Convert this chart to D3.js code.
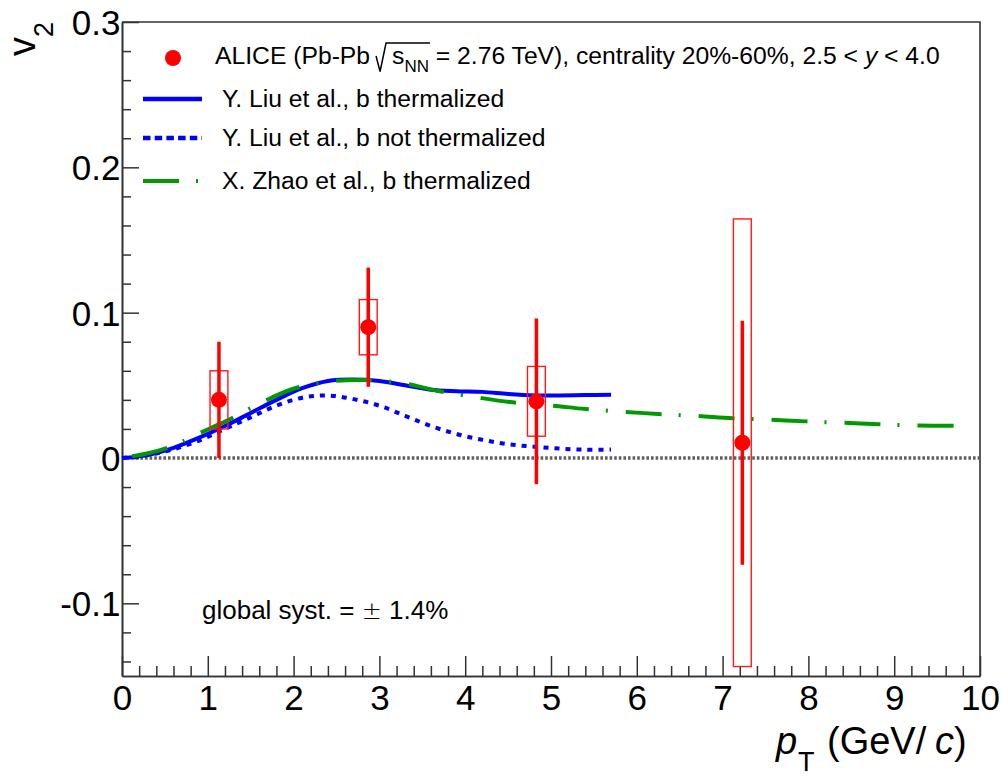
<!DOCTYPE html>
<html>
<head>
<meta charset="utf-8">
<script src="https://cdn.jsdelivr.net/npm/d3@7"></script>
<style>
  html, body { margin: 0; padding: 0; background: #fff; }
  svg { display: block; font-family: "Liberation Sans", Arial, Helvetica, sans-serif; }
</style>
</head>
<body>
<svg id="chart" width="1002" height="778"></svg>
<script>
// ALICE J/psi v2 measurement: bin centres, values, stat. and syst. uncertainties
const dataPt   = [1.13, 2.87, 4.83, 7.23];
const dataV2   = [0.040, 0.090, 0.039, 0.0105];
const dataStat = [0.040, 0.041, 0.057, 0.084];
const dataSyst = [0.020, 0.019, 0.024, 0.154];

// Transport model: Y. Liu et al.
const liuPt      = [0, 0.3, 0.6, 0.9, 1.2, 1.5, 1.8, 2.1, 2.4, 2.7, 3.0, 3.3, 3.6, 3.9, 4.2, 4.5, 4.8, 5.1, 5.4, 5.7];
const liuTherm   = [0, 0.002, 0.007, 0.014, 0.022, 0.031, 0.040, 0.048, 0.053, 0.054, 0.053, 0.050, 0.047, 0.046, 0.0455, 0.044, 0.043, 0.043, 0.0433, 0.0435];
const liuNoTherm = [0, 0.002, 0.006, 0.012, 0.020, 0.028, 0.036, 0.0415, 0.043, 0.0405, 0.036, 0.029, 0.022, 0.0165, 0.0125, 0.0095, 0.0078, 0.0065, 0.0057, 0.0058];

// Transport model: X. Zhao et al.
const zhaoPt    = [0, 0.33, 0.62, 0.83, 1.2, 1.61, 1.98, 2.4, 2.8, 3.28, 3.67, 4.13, 4.52, 4.99, 5.4, 5.84, 6.25, 6.7, 7.12, 7.55, 7.97, 8.41, 8.83, 9.28, 9.7];
const zhaoTherm = [0, 0.0036, 0.009, 0.0151, 0.025, 0.0376, 0.0473, 0.0525, 0.0537, 0.0514, 0.0463, 0.0418, 0.0385, 0.0362, 0.0337, 0.0318, 0.0303, 0.0289, 0.0273, 0.0264, 0.0252, 0.0242, 0.0232, 0.0224, 0.0222];

// Axis ticks
const xTickValues = [0, 1, 2, 3, 4, 5, 6, 7, 8, 9, 10];
const xTickLabels = ["0", "1", "2", "3", "4", "5", "6", "7", "8", "9", "10"];
const yTickValues = [-0.1, 0, 0.1, 0.2, 0.3];
const yTickLabels = ["-0.1", "0", "0.1", "0.2", "0.3"];

// Legend entries
const legendLabels = [
  "Y. Liu et al., b thermalized",
  "Y. Liu et al., b not thermalized",
  "X. Zhao et al., b thermalized"
];
const globalSystLabel = "global syst. = ";
const globalSystValue = " 1.4%";

const frame = { left: 122, right: 980, top: 22, bottom: 676 };
const x = d3.scaleLinear().domain([0, 10]).range([frame.left, frame.right]);
const y = d3.scaleLinear().domain([-0.15, 0.3]).range([frame.bottom, frame.top]);

const svg = d3.select("#chart");
const axisColor = "#333";
const red = "#ff0000", blue = "#0000ff", green = "#009900";
const greenDash = [36, 17, 2, 18];

// ---- axes ----
const xMinor = d3.range(0, 10.0001, 0.2).filter(v => Math.abs(v - Math.round(v)) > 1e-6);
const yMinor = d3.range(-0.14, 0.2901, 0.02).filter(v => Math.abs(v * 10 - Math.round(v * 10)) > 1e-6);

function styleAxis(g) {
  g.select(".domain").attr("stroke", axisColor).attr("stroke-width", 1.6);
  g.selectAll(".tick line").attr("stroke", axisColor).attr("stroke-width", 1.5);
}

svg.append("g").attr("transform", `translate(0,${frame.bottom})`)
  .call(d3.axisBottom(x).tickValues(xMinor).tickSize(-10).tickSizeOuter(0).tickFormat(""))
  .call(styleAxis);
svg.append("g").attr("transform", `translate(0,${frame.bottom})`)
  .call(d3.axisBottom(x).tickValues(xTickValues).tickSize(-20).tickSizeOuter(0).tickPadding(9)
    .tickFormat((d, i) => xTickLabels[i]))
  .call(styleAxis)
  .call(g => g.selectAll("text").attr("font-size", 35).attr("fill", "#000")
    .attr("font-family", "'Liberation Sans', Arial, sans-serif"));

svg.append("g").attr("transform", `translate(${frame.left},0)`)
  .call(d3.axisLeft(y).tickValues(yMinor).tickSize(-9).tickSizeOuter(0).tickFormat(""))
  .call(styleAxis);
svg.append("g").attr("transform", `translate(${frame.left},0)`)
  .call(d3.axisLeft(y).tickValues(yTickValues).tickSize(-17).tickSizeOuter(0).tickPadding(1.5)
    .tickFormat((d, i) => yTickLabels[i]))
  .call(styleAxis)
  .call(g => g.selectAll("text").attr("font-size", 35).attr("fill", "#000").attr("dy", "0.355em")
    .attr("font-family", "'Liberation Sans', Arial, sans-serif"));

// top and right edges of the frame
svg.append("path")
  .attr("d", `M${frame.left},${frame.top}H${frame.right}V${frame.bottom}`)
  .attr("fill", "none").attr("stroke", axisColor).attr("stroke-width", 1.6);

// axis titles
const xTitle = svg.append("text").attr("y", 754).attr("font-size", 38).attr("fill", "#000");
xTitle.append("tspan").attr("x", 776).attr("font-style", "italic").text("p");
xTitle.append("tspan").attr("x", 798).attr("dy", 17).attr("font-size", 27).text("T");
xTitle.append("tspan").attr("x", 827).attr("dy", -17).text("(GeV/");
xTitle.append("tspan").attr("x", 935).attr("font-style", "italic").text("c");
xTitle.append("tspan").text(")");

const yTitle = svg.append("text").attr("transform", "translate(35,22) rotate(-90)")
  .attr("text-anchor", "end").attr("font-size", 38).attr("fill", "#000");
yTitle.append("tspan").text("v");
yTitle.append("tspan").attr("dy", 18).attr("font-size", 27).text("2");

// ---- zero reference line ----
svg.append("line")
  .attr("x1", x(0)).attr("x2", x(10)).attr("y1", y(0)).attr("y2", y(0))
  .attr("stroke", "#5f5f5f").attr("stroke-width", 3.5).attr("stroke-dasharray", "2.6,2");

// ---- model curves ----
const line = d3.line().x(d => x(d[0])).y(d => y(d[1])).curve(d3.curveCatmullRom.alpha(0.5));
const liuThermPts   = liuPt.map((p, i) => [p, liuTherm[i]]);
const liuNoThermPts = liuPt.map((p, i) => [p, liuNoTherm[i]]);
const zhaoPts       = zhaoPt.map((p, i) => [p, zhaoTherm[i]]);

svg.append("path").datum(liuThermPts).attr("d", line)
  .attr("fill", "none").attr("stroke", blue).attr("stroke-width", 4);
svg.append("path").datum(liuNoThermPts).attr("d", line)
  .attr("fill", "none").attr("stroke", blue).attr("stroke-width", 4).attr("stroke-dasharray", "5,6");
const zhaoPath = svg.append("path").datum(zhaoPts).attr("d", line)
  .attr("fill", "none").attr("stroke", green).attr("stroke-width", 4)
  .attr("stroke-dasharray", greenDash.join(","));

// phase the long-dash/dot pattern so that a dash begins near pT = 9.27
(function alignDash() {
  const node = zhaoPath.node();
  const period = d3.sum(greenDash);
  const tx = x(9.27);
  let lo = 0, hi = node.getTotalLength();
  for (let k = 0; k < 40; k++) {
    const mid = (lo + hi) / 2;
    if (node.getPointAtLength(mid).x < tx) lo = mid; else hi = mid;
  }
  const L = (lo + hi) / 2;
  zhaoPath.attr("stroke-dashoffset", (period - (L % period)) % period);
})();

// ---- data points ----
const pts = dataPt.map((p, i) => ({ pt: p, v: dataV2[i], stat: dataStat[i], syst: dataSyst[i] }));
const boxHalf = 0.104;
const gData = svg.append("g");
gData.selectAll("rect").data(pts).join("rect")
  .attr("x", d => x(d.pt - boxHalf))
  .attr("width", d => x(d.pt + boxHalf) - x(d.pt - boxHalf))
  .attr("y", d => y(d.v + d.syst))
  .attr("height", d => y(d.v - d.syst) - y(d.v + d.syst))
  .attr("fill", "none").attr("stroke", "#ff1a1a").attr("stroke-width", 1.4);
gData.selectAll("line").data(pts).join("line")
  .attr("x1", d => x(d.pt)).attr("x2", d => x(d.pt))
  .attr("y1", d => y(d.v + d.stat)).attr("y2", d => y(d.v - d.stat))
  .attr("stroke", red).attr("stroke-width", 3.5);
gData.selectAll("circle").data(pts).join("circle")
  .attr("cx", d => x(d.pt)).attr("cy", d => y(d.v)).attr("r", 8)
  .attr("fill", red);

// ---- legend ----
const lg = svg.append("g").attr("font-size", 24.7).attr("fill", "#000");
lg.append("circle").attr("cx", 173).attr("cy", 58).attr("r", 8).attr("fill", red);

const alice = lg.append("text").attr("x", 215).attr("y", 64);
alice.append("tspan").text("ALICE (Pb-Pb");
alice.append("tspan").attr("dx", 22).text("s");
alice.append("tspan").attr("dy", 8).attr("font-size", 17).text("NN");
alice.append("tspan").attr("dy", -8).text(" = 2.76 TeV), centrality 20%-60%, 2.5 < ");
alice.append("tspan").attr("font-style", "italic").text("y");
alice.append("tspan").text(" < 4.0");

// square-root sign with its bar over s_NN
(function drawRadical() {
  const node = alice.node();
  const sx = node.getStartPositionOfChar(12).x;
  const ex = node.getEndPositionOfChar(14).x;
  const base = 64;
  lg.append("path")
    .attr("d", `M${sx - 16},${base - 8} L${sx - 12},${base + 7.5} L${sx - 6},${base - 21} H${ex + 1}`)
    .attr("fill", "none").attr("stroke", "#000").attr("stroke-width", 1.5)
    .attr("stroke-linejoin", "miter");
})();

const rowY = [99, 138, 181];
lg.append("line").attr("x1", 143).attr("x2", 202).attr("y1", rowY[0]).attr("y2", rowY[0])
  .attr("stroke", blue).attr("stroke-width", 4.5);
lg.append("line").attr("x1", 143).attr("x2", 202).attr("y1", rowY[1]).attr("y2", rowY[1])
  .attr("stroke", blue).attr("stroke-width", 4.5).attr("stroke-dasharray", "7.5,4.2");
lg.append("line").attr("x1", 143).attr("x2", 202).attr("y1", rowY[2]).attr("y2", rowY[2])
  .attr("stroke", green).attr("stroke-width", 4).attr("stroke-dasharray", greenDash.join(","));
legendLabels.forEach((t, i) => {
  lg.append("text").attr("x", 222).attr("y", rowY[i] + 8).text(t);
});

// global systematic uncertainty note
const gs = svg.append("text").attr("x", 202).attr("y", 619).attr("font-size", 26).attr("fill", "#000");
gs.append("tspan").text(globalSystLabel);
gs.append("tspan").attr("font-family", "'DejaVu Sans', sans-serif").attr("font-weight", 300)
  .attr("font-size", 24).text("\u00b1");
gs.append("tspan").text(globalSystValue);
</script>
</body>
</html>
